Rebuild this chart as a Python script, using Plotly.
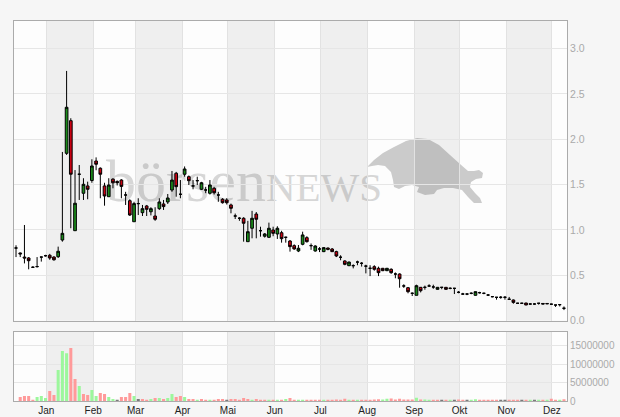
import base64
import pandas as pd
import plotly.graph_objects as go

# ---------------- data ----------------
opens = [0.80, 0.745, 0.70, 0.69, 0.587, 0.595, 0.70, 0.715, 0.72, 0.70,
         0.704, 0.888, 1.845, 2.205, 0.991, 1.614, 1.404, 1.485, 1.545, 1.76,
         1.68, 1.485, 1.366, 1.56, 1.535, 1.55, 1.385, 1.322, 1.09, 1.29,
         1.19, 1.264, 1.20, 1.153, 1.234, 1.286, 1.308, 1.44, 1.625, 1.393,
         1.614, 1.587, 1.485, 1.543, 1.448, 1.44, 1.404, 1.459, 1.385, 1.338,
         1.33, 1.275, 1.153, 1.128, 1.128, 0.87, 1.018, 1.175, 0.991, 0.93,
         0.918, 0.999, 0.955, 0.969, 0.918, 0.877, 0.826, 0.767, 0.841, 0.914,
         0.826, 0.767, 0.789, 0.76, 0.80, 0.789, 0.76, 0.698, 0.657, 0.605,
         0.605, 0.645, 0.631, 0.60, 0.576, 0.594, 0.576, 0.576, 0.55, 0.565,
         0.513, 0.513, 0.381, 0.362, 0.30, 0.278, 0.366, 0.366, 0.381, 0.37,
         0.344, 0.366, 0.366, 0.355, 0.355, 0.311, 0.292, 0.292, 0.30, 0.278,
         0.307, 0.30, 0.281, 0.263, 0.256, 0.256, 0.256, 0.234, 0.226, 0.19,
         0.19, 0.193, 0.182, 0.182, 0.19, 0.188, 0.188, 0.18, 0.171, 0.175,
         0.135]
highs = [0.83, 0.75, 1.054, 0.70, 0.60, 0.70, 0.705, 0.725, 0.735, 0.71,
         0.815, 1.86, 2.754, 2.232, 1.66, 1.716, 1.57, 1.532, 1.779, 1.80,
         1.69, 1.52, 1.57, 1.57, 1.545, 1.56, 1.42, 1.338, 1.31, 1.349,
         1.275, 1.275, 1.25, 1.25, 1.349, 1.33, 1.396, 1.65, 1.64, 1.55,
         1.70, 1.60, 1.55, 1.587, 1.53, 1.475, 1.55, 1.475, 1.42, 1.35,
         1.35, 1.29, 1.18, 1.14, 1.14, 1.10, 1.21, 1.197, 1.035, 0.965,
         1.08, 1.035, 1.04, 0.99, 0.925, 0.888, 0.84, 0.833, 0.98, 0.93,
         0.85, 0.83, 0.81, 0.81, 0.805, 0.80, 0.77, 0.72, 0.665, 0.65,
         0.62, 0.66, 0.645, 0.615, 0.61, 0.61, 0.594, 0.58, 0.58, 0.576,
         0.53, 0.52, 0.40, 0.37, 0.31, 0.395, 0.37, 0.385, 0.40, 0.395,
         0.37, 0.366, 0.37, 0.365, 0.36, 0.325, 0.305, 0.30, 0.31, 0.32,
         0.317, 0.307, 0.292, 0.27, 0.256, 0.27, 0.27, 0.26, 0.232, 0.195,
         0.195, 0.195, 0.19, 0.19, 0.19, 0.19, 0.19, 0.185, 0.171, 0.175,
         0.155]
lows = [0.70, 0.70, 0.63, 0.565, 0.585, 0.585, 0.65, 0.705, 0.67, 0.66,
        0.69, 0.87, 1.827, 1.018, 0.991, 1.33, 1.33, 1.338, 1.52, 1.658,
        1.349, 1.267, 1.366, 1.459, 1.49, 1.349, 1.275, 1.153, 1.09, 1.164,
        1.153, 1.153, 1.16, 1.10, 1.22, 1.22, 1.286, 1.42, 1.366, 1.349,
        1.587, 1.495, 1.448, 1.495, 1.44, 1.405, 1.39, 1.39, 1.31, 1.29,
        1.28, 1.183, 1.12, 1.10, 0.87, 0.87, 0.907, 0.907, 0.925, 0.915,
        0.91, 0.93, 0.90, 0.859, 0.859, 0.76, 0.78, 0.755, 0.83, 0.86,
        0.78, 0.76, 0.755, 0.755, 0.775, 0.755, 0.70, 0.665, 0.61, 0.60,
        0.575, 0.61, 0.595, 0.52, 0.49, 0.55, 0.49, 0.545, 0.545, 0.515,
        0.466, 0.362, 0.36, 0.30, 0.27, 0.278, 0.31, 0.34, 0.37, 0.35,
        0.34, 0.345, 0.34, 0.345, 0.292, 0.30, 0.285, 0.28, 0.29, 0.275,
        0.297, 0.29, 0.27, 0.255, 0.23, 0.24, 0.23, 0.234, 0.185, 0.185,
        0.185, 0.17, 0.175, 0.175, 0.175, 0.18, 0.18, 0.175, 0.15, 0.155,
        0.115]
closes = [0.80, 0.735, 0.69, 0.66, 0.587, 0.595, 0.70, 0.715, 0.69, 0.67,
          0.764, 0.962, 2.353, 1.614, 1.294, 1.614, 1.503, 1.448, 1.705, 1.724,
          1.614, 1.374, 1.495, 1.52, 1.52, 1.48, 1.385, 1.164, 1.29, 1.29,
          1.234, 1.227, 1.234, 1.117, 1.308, 1.257, 1.352, 1.55, 1.477, 1.393,
          1.672, 1.543, 1.485, 1.543, 1.52, 1.44, 1.495, 1.41, 1.385, 1.30,
          1.30, 1.238, 1.153, 1.128, 1.073, 0.98, 1.128, 1.117, 0.991, 0.955,
          1.018, 0.962, 1.018, 0.903, 0.918, 0.815, 0.79, 0.797, 0.944, 0.87,
          0.826, 0.822, 0.789, 0.804, 0.785, 0.76, 0.712, 0.698, 0.62, 0.645,
          0.605, 0.645, 0.631, 0.60, 0.576, 0.565, 0.528, 0.55, 0.576, 0.528,
          0.513, 0.461, 0.381, 0.318, 0.30, 0.384, 0.329, 0.366, 0.381, 0.37,
          0.366, 0.366, 0.344, 0.355, 0.355, 0.311, 0.292, 0.292, 0.30, 0.318,
          0.307, 0.30, 0.281, 0.263, 0.256, 0.256, 0.256, 0.234, 0.20, 0.19,
          0.19, 0.171, 0.182, 0.182, 0.19, 0.182, 0.185, 0.18, 0.171, 0.175,
          0.135]
volume_millions = [0.0, 1.09, 1.36, 1.36, 0.36, 1.09, 1.36, 0.82, 2.72, 1.63,
                   8.42, 13.6, 13.0, 14.4, 5.98, 4.08, 1.9, 1.63, 2.99, 1.36,
                   2.17, 1.9, 1.09, 0.54, 0.27, 1.09, 1.09, 2.17, 1.36, 0.54,
                   0.54, 0.27, 0.54, 0.82, 0.82, 0.54, 0.82, 1.9, 1.09, 1.36,
                   1.09, 0.54, 0.54, 0.27, 0.54, 0.27, 0.27, 0.27, 0.54, 0.54,
                   0.27, 0.54, 0.54, 0.27, 0.82, 0.54, 0.27, 0.54, 0.27, 0.2,
                   0.27, 0.27, 0.27, 0.27, 0.54, 0.82, 0.2, 0.2, 0.3, 0.3,
                   0.3, 0.2, 0.2, 0.3, 0.3, 0.3, 0.4, 0.3, 0.6, 0.3,
                   0.3, 0.2, 0.3, 0.3, 0.3, 0.4, 0.5, 0.4, 0.6, 0.7,
                   0.4, 0.6, 0.4, 0.4, 0.4, 0.9, 0.4, 0.4, 0.3, 0.3,
                   0.3, 0.3, 0.3, 0.3, 0.3, 0.4, 0.3, 0.3, 0.3, 0.5,
                   0.3, 0.3, 0.3, 0.3, 0.3, 0.3, 0.3, 0.3, 0.3, 0.3,
                   0.3, 0.3, 0.3, 0.3, 0.3, 0.3, 0.3, 0.6, 0.3, 0.3,
                   0.5]
first_date = "2021-12-12"
last_date = "2022-12-09"
month_starts = ["2022-01-01", "2022-02-01", "2022-03-01", "2022-04-01",
                "2022-05-01", "2022-06-01", "2022-07-01", "2022-08-01",
                "2022-09-01", "2022-10-01", "2022-11-01", "2022-12-01"]
month_labels = ["Jan", "Feb", "Mar", "Apr", "Mai", "Jun",
                "Jul", "Aug", "Sep", "Okt", "Nov", "Dez"]
price_ticks = [0.0, 0.5, 1.0, 1.5, 2.0, 2.5, 3.0]
volume_ticks = [0, 5000000, 10000000, 15000000]

# ---------------- derived ----------------
dates = pd.date_range(first_date, last_date, periods=len(closes))
volumes = [v * 1e6 for v in volume_millions]
vol_colors = []
prev = None
for c in closes:
    if prev is None or c == prev:
        vol_colors.append("#7a7a7a")
    elif c > prev:
        vol_colors.append("#9cf79c")
    else:
        vol_colors.append("#ff9a9a")
    prev = c

X_RANGE = ["2021-12-10 16:00", "2022-12-11 00:00"]
ML, MR, MT, MB = 14, 53, 21, 16
W, H = 620, 417
PW, PH = W - ML - MR, H - MT - MB

fig = go.Figure()
fig.add_trace(go.Candlestick(
    x=dates, open=opens, high=highs, low=lows, close=closes,
    xaxis="x", yaxis="y", whiskerwidth=0,
    increasing=dict(line=dict(color="#000000", width=1), fillcolor="#1a8c1a"),
    decreasing=dict(line=dict(color="#000000", width=1), fillcolor="#cc0011"),
    hoverinfo="skip", showlegend=False))
fig.add_trace(go.Bar(
    x=dates, y=volumes, xaxis="x2", yaxis="y2",
    marker=dict(color=vol_colors, line=dict(width=0)),
    hoverinfo="skip", showlegend=False))

# alternating month bands
shapes = []
for i in range(0, len(month_starts), 2):
    x0 = month_starts[i]
    x1 = month_starts[i + 1] if i + 1 < len(month_starts) else X_RANGE[1]
    for xr, yr in (("x", "y domain"), ("x2", "y2 domain")):
        shapes.append(dict(type="rect", xref=xr, yref=yr, x0=x0, x1=x1, y0=0, y1=1,
                           fillcolor="rgba(0,0,0,0.055)", line=dict(width=0),
                           layer="below"))

# watermark (text + charging bull silhouette) as an SVG image beneath the traces
bull_px = [(367, 167), (374, 160), (383, 153), (394, 147), (406, 141), (417, 138),
           (428, 139), (439, 145), (450, 155), (460, 164), (468, 171), (474, 171),
           (479, 170), (483, 173), (482, 178), (476, 179), (471, 182), (470, 187),
           (475, 193), (480, 198), (482, 203), (474, 203), (468, 197), (462, 190),
           (453, 188), (444, 188), (437, 190), (434, 194), (425, 195), (417, 192),
           (419, 187), (412, 185), (405, 186), (399, 189), (394, 187), (393, 180),
           (391, 172), (385, 166), (378, 165), (372, 166)]
d = "M " + " L ".join(f"{x - ML:.1f},{y - MT:.1f}" for x, y in bull_px) + " Z"
svg = (f'<svg xmlns="http://www.w3.org/2000/svg" width="{PW}" height="{PH}" '
       f'viewBox="0 0 {PW} {PH}">'
       f'<path d="{d}" fill="#cbcbcb"/>'
       f'<text x="{106 - ML}" y="{200.5 - MT}" font-family="Liberation Serif" '
       f'font-size="60" fill="#d6d6d6">börsen<tspan font-size="41">NEWS</tspan></text>'
       f'</svg>')
src = "data:image/svg+xml;base64," + base64.b64encode(svg.encode("utf-8")).decode("ascii")

frame = dict(showline=True, linecolor="#ababab", linewidth=1, mirror=True)
main_bottom = (H - MB - 320.5) / PH
vol_top = (H - MB - 331.7) / PH

fig.update_layout(
    width=W, height=H, margin=dict(l=ML, r=MR, t=MT, b=MB, autoexpand=False),
    paper_bgcolor="#f6f6f6", plot_bgcolor="#fdfdfd",
    font=dict(family="Liberation Sans", size=10.5, color="#aaaaaa"),
    showlegend=False, boxgap=0.2, boxgroupgap=0.2, bargap=0.28,
    shapes=shapes,
    images=[dict(source=src, xref="paper", yref="paper", x=0, y=1, sizex=1, sizey=1,
                 xanchor="left", yanchor="top", sizing="stretch", layer="below")],
    xaxis=dict(type="date", range=X_RANGE, domain=[0, 1], anchor="y",
               rangeslider=dict(visible=False), tickvals=month_starts,
               showticklabels=False, ticks="", showgrid=True, gridcolor="#e2e2e2",
               automargin=False, **frame),
    yaxis=dict(domain=[main_bottom, 1], range=[0, 3.305], side="right",
               tickvals=price_ticks, ticktext=[f"{v:.1f}" for v in price_ticks],
               ticks="", showgrid=True, gridcolor="#e6e6e6", zeroline=False,
               automargin=False, tickfont=dict(size=10.5, color="#aaaaaa"), **frame),
    xaxis2=dict(type="date", range=X_RANGE, domain=[0, 1], anchor="y2", matches="x",
                tickvals=month_starts, ticktext=month_labels, ticks="",
                showgrid=True, gridcolor="#e2e2e2", automargin=False,
                tickfont=dict(size=10, color="#222222"), **frame),
    yaxis2=dict(domain=[0, vol_top], range=[0, 18.83e6], side="right",
                tickvals=volume_ticks, ticktext=[str(v) for v in volume_ticks],
                ticks="", showgrid=True, gridcolor="#e6e6e6", zeroline=False,
                automargin=False, tickfont=dict(size=10, color="#aaaaaa"), **frame),
)

fig.write_html("out.html", config={"displayModeBar": False},
               post_script="document.body.style.margin='0';"
                           "document.body.style.background='#f6f6f6';")
